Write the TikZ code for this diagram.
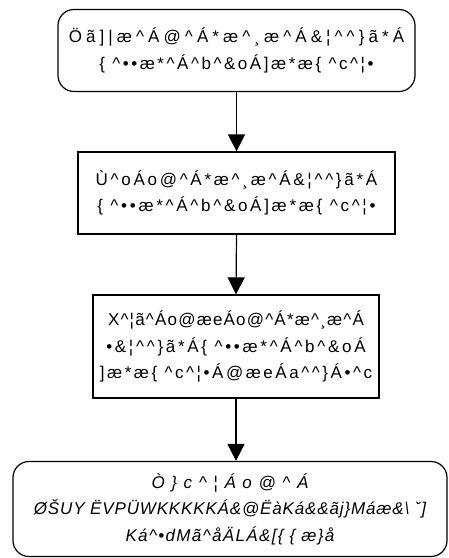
\documentclass[tikz,border=0pt]{standalone}
\usepackage{fontspec}
\setmainfont{Liberation Sans}
\usetikzlibrary{arrows.meta}
\newcommand\cc{\textasciicircum}
\newcommand\wider[2]{{\addfontfeature{LetterSpace=#1}#2}}
\begin{document}
\begin{tikzpicture}[x=1pt,y=-1pt,
  box/.style={draw,line width=1.2pt,inner sep=0pt,align=center,font=\fontsize{17}{26.5}\selectfont},
  rbox/.style={box,rounded corners=16pt},
  arr/.style={line width=1.2pt,-{Triangle[width=17pt,length=17pt]}}]
\useasboundingbox (0,0) rectangle (449,558);
\node[rbox,minimum width=357pt,minimum height=82pt] (b1) at (236.5,50.5)
  {\wider{24}{Öã]|æ\cc{}Á@\cc{}Á*æ\cc{}¸æ\cc{}Á\&¦\cc\cc\}ã*Á}\\\wider{15}{\{ \cc{}••æ*\cc{}Á\cc{}b\cc{}\&oÁ]æ*æ\{ \cc{}c\cc{}¦•}};
\node[box,minimum width=317pt,minimum height=82pt] (b2) at (236.5,193)
  {\wider{16}{Ù\cc{}oÁo@\cc{}Á*æ\cc{}¸æ\cc{}Á\&¦\cc\cc\}ã*Á}\\\wider{16}{\{ \cc{}••æ*\cc{}Á\cc{}b\cc{}\&oÁ]æ*æ\{ \cc{}c\cc{}¦•}};
\node[box,minimum width=286pt,minimum height=103pt] (b3) at (236,346.5)
  {\wider{7}{X\cc{}¦ã\cc{}Áo@æeÁo@\cc{}Á*æ\cc{}¸æ\cc{}Á}\\\wider{16}{•\&¦\cc\cc\}ã*Á\{ \cc{}••æ*\cc{}Á\cc{}b\cc{}\&oÁ}\\\wider{15}{]æ*æ\{ \cc{}c\cc{}¦•Á@æeÁa\cc\cc\}Á•\cc{}c}};
\node[rbox,minimum width=434pt,minimum height=95pt,font=\fontsize{17}{26.5}\selectfont\itshape] (b4) at (230,509)
  {\wider{39}{Ò\}c\cc{}¦Áo@\cc{}Á}\\\wider{5}{ØŠUY ËVPÜWKKKKKÁ\&@ËàKá\&\&ãj\}Máæ\&\textbackslash{} ˇ]}\\\wider{8}{Ká\cc{}•dMã\cc{}åÄLÁ\&[\{ \{ æ\}å}};
\draw[arr] (b1.south) -- (b2.north);
\draw[arr] (b2.south) -- (b3.north);
\draw[arr] (b3.south) -- (b3.south |- b4.north);
\end{tikzpicture}
\end{document}
